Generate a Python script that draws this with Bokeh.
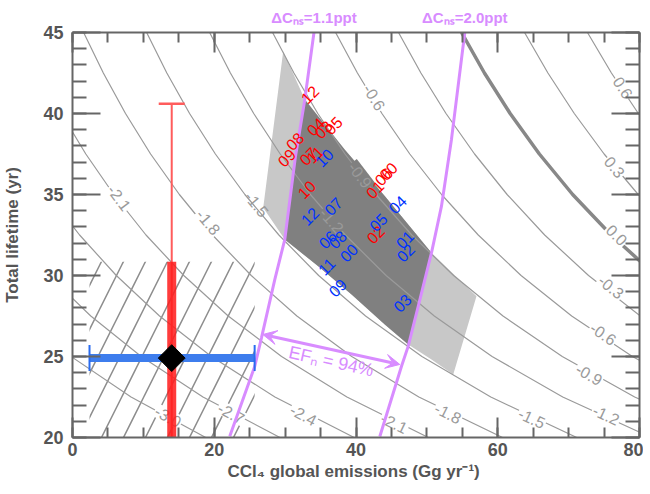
import math
from bokeh.plotting import figure
from bokeh.models import (LinearAxis, SingleIntervalTicker, FixedTicker, Range1d,
                          Arrow, VeeHead, ColumnDataSource)
from bokeh.embed import file_html
from bokeh.resources import INLINE
from bokeh.core.properties import value

FONT = "Liberation Sans"
AXIS_GRAY = "#666666"
TEXT_GRAY = "#555555"
CONTOUR_GRAY = "#9a9a9a"
PINK = "#d88cff"

# ---------------- data ----------------
TAU_GRID = [20, 22.5, 25, 27.5, 30, 32.5, 35, 37.5, 40, 42.5, 45]
CONTOUR_LEVELS = [-3.0, -2.7, -2.4, -2.1, -1.8, -1.5, -1.2, -0.9, -0.6, -0.3, 0.0, 0.3, 0.6]
CONTOUR_E = [
    [18.80, 8.26, -0.20, -7.11, -12.86, -17.75, -21.92, -25.54, -28.70, -31.49, -33.97],
    [29.27, 18.41, 9.70, 2.58, -3.34, -8.38, -12.67, -16.40, -19.66, -22.53, -25.08],
    [39.74, 28.56, 19.60, 12.28, 6.18, 1.00, -3.42, -7.26, -10.61, -13.57, -16.20],
    [50.21, 38.72, 29.50, 21.97, 15.70, 10.37, 5.83, 1.88, -1.57, -4.61, -7.31],
    [60.68, 48.87, 39.40, 31.66, 25.22, 19.75, 15.08, 11.02, 7.48, 4.35, 1.57],
    [71.15, 59.02, 49.30, 41.35, 34.73, 29.12, 24.32, 20.16, 16.52, 13.31, 10.46],
    [81.62, 69.17, 59.20, 51.05, 44.25, 38.50, 33.57, 29.31, 25.57, 22.28, 19.35],
    [92.09, 79.32, 69.10, 60.74, 53.77, 47.87, 42.82, 38.45, 34.61, 31.24, 28.23],
    [102.56, 89.48, 79.00, 70.43, 63.29, 57.25, 52.07, 47.59, 43.66, 40.20, 37.12],
    [113.03, 99.63, 88.90, 80.13, 72.81, 66.62, 61.32, 56.73, 52.70, 49.16, 46.00],
    [123.50, 109.78, 98.80, 89.82, 82.33, 76.00, 70.57, 65.87, 61.75, 58.12, 54.89],
    [133.97, 119.93, 108.70, 99.51, 91.85, 85.37, 79.82, 75.01, 70.80, 67.08, 63.78],
    [144.44, 130.08, 118.60, 109.21, 101.37, 94.75, 89.07, 84.15, 79.84, 76.04, 72.66],
]

CLABEL_TEXT = ["-3.0", "-2.7", "-2.4", "-2.1", "-2.1", "-1.8", "-1.8", "-1.5", "-1.5",
               "-1.2", "-1.2", "-0.9", "-0.9", "-0.6", "-0.6", "-0.3", "0.0", "0.3", "0.6"]
CLABEL_E = [13.5, 22.4, 32.6, 6.6, 45.4, 19.2, 53.0, 26.0, 64.8,
            36.6, 75.3, 40.6, 72.9, 42.6, 74.9, 76.0, 76.8, 76.5, 77.7]
CLABEL_TAU = [21.3, 21.5, 21.4, 34.8, 20.9, 33.3, 21.5, 34.4, 21.2,
              33.4, 21.4, 36.2, 23.9, 41.0, 26.4, 29.3, 32.5, 36.7, 41.6]
CLABEL_ANGLE = [-28.6, -28.4, -27.5, -53.2, -25.7, -50.0, -26.4, -51.1, -25.2,
                -48.7, -25.0, -52.5, -29.6, -58.5, -34.1, -39.1, -44.3, -50.6, -56.9]
CLABEL_BG = ["white", "white", "white", "white", "white", "white", "white",
             "rgba(255,255,255,0)", "white", "#808080", "white", "#808080", "white",
             "white", "white", "white", "white", "white", "white"]

BAND_UPPER_E = [29.73, 32.78, 38.40, 44.06, 50.65, 57.00]
BAND_UPPER_TAU = [43.85, 40.86, 37.78, 34.90, 31.40, 28.72]
BAND_LOWER_E = [26.91, 29.95, 34.67, 39.37, 44.06, 47.37, 50.65, 53.72]
BAND_LOWER_TAU = [34.18, 32.22, 30.57, 28.83, 26.98, 25.74, 24.81, 23.89]
DARK_E = [32.78, 38.40, 44.06, 50.65, 48.78, 47.37, 44.06, 39.37, 34.67, 29.95, 31.46]
DARK_TAU = [40.86, 37.78, 34.90, 31.40, 28.10, 25.74, 26.98, 28.83, 30.57, 32.22, 37.35]

PINK1_E = [34.07, 32.78, 31.46, 29.95, 28.54, 26.67, 25.72, 22.19]
PINK1_TAU = [45.0, 40.86, 37.35, 32.22, 29.75, 26.17, 24.40, 20.08]
PINK2_E = [55.35, 53.47, 52.06, 50.65, 48.78, 47.37, 46.42, 43.36]
PINK2_TAU = [45.0, 38.40, 34.28, 31.40, 28.10, 25.64, 24.40, 20.06]
PINK_LABELS = ["ΔCₙₛ=1.1ppt", "ΔCₙₛ=2.0ppt"]

EF_E = [26.85, 46.18]
EF_TAU = [26.36, 24.51]
EF_TEXT = "EFₙ = 94%"
EF_TEXT_E = 36.5
EF_TEXT_TAU = 24.7

RED_YEARS = ["12", "04", "03", "05", "09", "08", "07", "11", "10", "01", "06", "00", "02"]
RED_E = [33.48, 34.29, 35.37, 36.78, 30.19, 31.37, 33.26, 34.19, 33.02, 42.65, 43.88, 44.54, 42.75]
RED_TAU = [41.17, 39.18, 39.01, 39.26, 37.27, 38.29, 37.36, 37.47, 35.31, 35.31, 36.11, 36.44, 32.53]
BLUE_YEARS = ["10", "12", "07", "06", "08", "11", "00", "09", "05", "04", "01", "02", "03"]
BLUE_E = [35.51, 33.48, 36.78, 35.98, 37.39, 35.84, 38.98, 37.39, 43.13, 45.86, 46.89, 46.98, 46.52]
BLUE_TAU = [37.27, 33.66, 34.28, 32.22, 32.22, 30.57, 31.40, 29.24, 33.29, 34.38, 32.22, 31.40, 28.31]

BEST_E = 14.0
BEST_TAU = 24.9
E_RANGE_1SIG = [2.4, 25.7]
TAU_RANGE_1SIG = [19.0, 30.85]
TAU_RANGE_2SIG = [19.0, 40.6]

# ---------------- figure ----------------
p = figure(frame_width=567, frame_height=405, x_range=Range1d(0, 80), y_range=Range1d(20, 45),
           output_backend="svg", toolbar_location=None,
           min_border_left=63, min_border_right=4, min_border_top=25, min_border_bottom=40,
           outline_line_color=None, background_fill_color="white", border_fill_color="white")
p.grid.visible = False
p.title.text = " "
p.title.text_font_size = "3px"
p.title.standoff = 0

xt = SingleIntervalTicker(interval=20, num_minor_ticks=4)
yt = SingleIntervalTicker(interval=5, num_minor_ticks=5)
bottom_ax = p.below[0]
left_ax = p.left[0]
bottom_ax.ticker = xt
left_ax.ticker = yt
bottom_ax.axis_label = "CCl₄  global emissions (Gg yr⁻¹)"
left_ax.axis_label = "Total lifetime (yr)"

top_ax = LinearAxis(ticker=xt)
right_ax = LinearAxis(ticker=yt)
p.add_layout(top_ax, "above")
p.add_layout(right_ax, "right")

# labels of the two dC_ns lines, as an extra top axis
pink_ax = LinearAxis(ticker=FixedTicker(ticks=[PINK1_E[0], PINK2_E[0]]),
                     major_label_overrides={PINK1_E[0]: PINK_LABELS[0], PINK2_E[0]: PINK_LABELS[1]},
                     axis_line_color=None, major_tick_line_color=None, minor_tick_line_color=None,
                     major_label_standoff=1, major_label_text_font=FONT,
                     major_label_text_font_style="bold", major_label_text_font_size="15px",
                     major_label_text_color=PINK)
p.add_layout(pink_ax, "above")


def style_axis(ax, major_len, minor_len, show_labels):
    ax.axis_line_color = AXIS_GRAY
    ax.axis_line_width = 2
    ax.major_tick_line_color = AXIS_GRAY
    ax.minor_tick_line_color = AXIS_GRAY
    ax.major_tick_line_width = 2
    ax.minor_tick_line_width = 2
    ax.major_tick_in = major_len
    ax.major_tick_out = 0
    ax.minor_tick_in = minor_len
    ax.minor_tick_out = 0
    ax.major_label_text_font = FONT
    ax.major_label_text_font_style = "bold"
    ax.major_label_text_color = TEXT_GRAY
    ax.axis_label_text_font = FONT
    ax.axis_label_text_font_style = "bold"
    ax.axis_label_text_color = TEXT_GRAY
    ax.axis_label_text_font_size = "17px"
    if show_labels:
        ax.major_label_text_font_size = "18px"
    else:
        ax.major_label_text_font_size = "1px"
        ax.major_label_text_alpha = 0
        ax.major_label_standoff = 0


style_axis(bottom_ax, 20, 10, True)
style_axis(top_ax, 20, 10, False)
style_axis(left_ax, 28, 14, True)
style_axis(right_ax, 28, 14, False)

bottom_ax.major_label_standoff = 5
bottom_ax.axis_label_standoff = 3
left_ax.major_label_standoff = 9
left_ax.axis_label_standoff = 18

# shaded band
band_E = BAND_UPPER_E + BAND_LOWER_E[::-1]
band_T = BAND_UPPER_TAU + BAND_LOWER_TAU[::-1]
p.patch(band_E, band_T, fill_color="#c8c8c8", line_color=None)
p.patch(DARK_E, DARK_TAU, fill_color="#808080", line_color=None)

# hatched 1-sigma box
p.quad(left=[E_RANGE_1SIG[0]], right=[E_RANGE_1SIG[1]],
       bottom=[TAU_RANGE_1SIG[0]], top=[TAU_RANGE_1SIG[1]],
       fill_color=None, line_color=None, hatch_pattern="/",
       hatch_color="#8c8c8c", hatch_scale=44, hatch_weight=1.5)

# contour lines
csrc = ColumnDataSource(dict(
    xs=CONTOUR_E,
    ys=[TAU_GRID for _ in CONTOUR_E],
    w=[3.5 if lv == 0 else 1.2 for lv in CONTOUR_LEVELS],
    c=["#888888" if lv == 0 else CONTOUR_GRAY for lv in CONTOUR_LEVELS],
))
p.multi_line("xs", "ys", line_width="w", line_color="c", source=csrc)

lsrc = ColumnDataSource(dict(x=CLABEL_E, y=CLABEL_TAU, t=CLABEL_TEXT,
                             a=CLABEL_ANGLE, bg=CLABEL_BG))
p.text("x", "y", text="t", angle="a", angle_units="deg", source=lsrc,
       text_align="center", text_baseline="middle", text_font=value(FONT),
       text_font_size=value("16px"), text_color="#9a9a9a",
       background_fill_color="bg", padding=1)

# dC_ns lines
p.line(PINK1_E, PINK1_TAU, line_color=PINK, line_width=3)
p.line(PINK2_E, PINK2_TAU, line_color=PINK, line_width=3)

# EF arrow
p.add_layout(Arrow(start=VeeHead(size=14, fill_color=PINK, line_color=PINK, line_width=1),
                   end=VeeHead(size=14, fill_color=PINK, line_color=PINK, line_width=1),
                   x_start=EF_E[0], y_start=EF_TAU[0], x_end=EF_E[1], y_end=EF_TAU[1],
                   line_color=PINK, line_width=3))
p.text([EF_TEXT_E], [EF_TEXT_TAU], text=[EF_TEXT], angle=-12.5, angle_units="deg",
       text_align="center", text_baseline="middle", text_font=value(FONT),
       text_font_size=value("18px"), text_color=PINK)

# year labels
p.text(RED_E, RED_TAU, text=RED_YEARS, angle=45, angle_units="deg",
       text_align="center", text_baseline="middle", text_font=value(FONT),
       text_font_size=value("16px"), text_color="#ff0000")
p.text(BLUE_E, BLUE_TAU, text=BLUE_YEARS, angle=45, angle_units="deg",
       text_align="center", text_baseline="middle", text_font=value(FONT),
       text_font_size=value("16px"), text_color="#0033ff")

# error bars
p.segment(x0=[E_RANGE_1SIG[0]], y0=[BEST_TAU], x1=[E_RANGE_1SIG[1]], y1=[BEST_TAU],
          line_color="#3d7ded", line_width=8)
p.scatter(E_RANGE_1SIG, [BEST_TAU, BEST_TAU], marker="dash", angle=90, angle_units="deg",
          size=26, line_color="#2a6cf0", line_width=2)
p.segment(x0=[BEST_E], y0=[TAU_RANGE_2SIG[0]], x1=[BEST_E], y1=[TAU_RANGE_2SIG[1]],
          line_color="#ff5c5c", line_width=2)
p.scatter([BEST_E], [TAU_RANGE_2SIG[1]], marker="dash", size=26,
          line_color="#ff5c5c", line_width=2.5)
p.segment(x0=[BEST_E], y0=[TAU_RANGE_1SIG[0]], x1=[BEST_E], y1=[TAU_RANGE_1SIG[1]],
          line_color="#ff1a1a", line_alpha=0.85, line_width=9)
p.scatter([BEST_E], [BEST_TAU], marker="square", angle=45, angle_units="deg",
          size=19, fill_color="black", line_color="black")

open("out.html", "w").write(file_html(p, INLINE))
